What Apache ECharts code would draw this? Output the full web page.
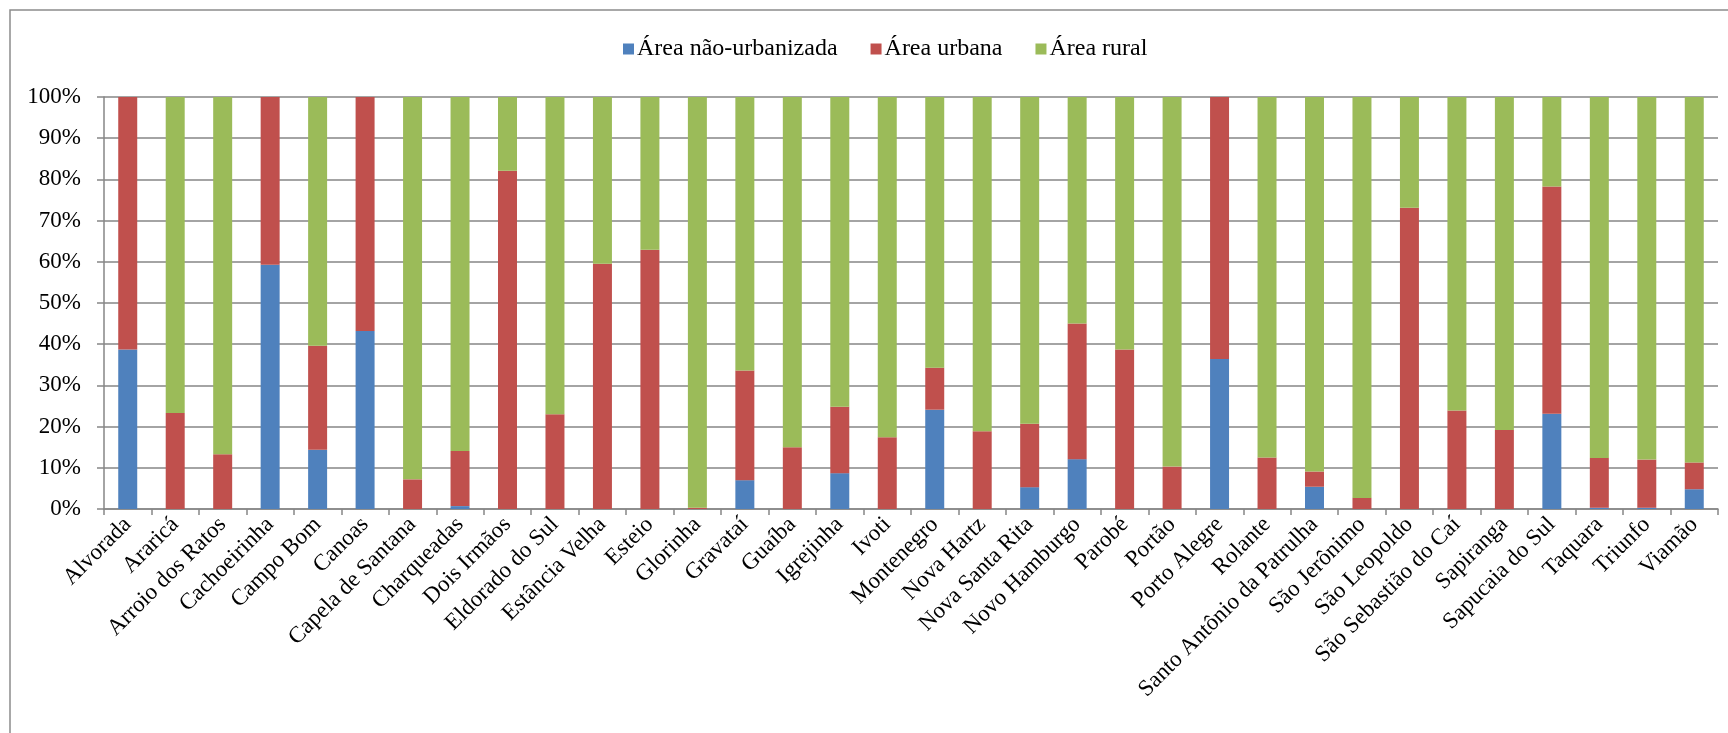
<!DOCTYPE html>
<html>
<head>
<meta charset="utf-8">
<script src="https://cdn.jsdelivr.net/npm/echarts@6/dist/echarts.min.js"></script>
<style>
html,body{margin:0;padding:0;background:#fff;}
#chart{width:1728px;height:733px;}
</style>
</head>
<body>
<div id="chart"></div>
<script>
const categories = ["Alvorada","Araricá","Arroio dos Ratos","Cachoeirinha","Campo Bom","Canoas","Capela de Santana","Charqueadas","Dois Irmãos","Eldorado do Sul","Estância Velha","Esteio","Glorinha","Gravataí","Guaíba","Igrejinha","Ivoti","Montenegro","Nova Hartz","Nova Santa Rita","Novo Hamburgo","Parobé","Portão","Porto Alegre","Rolante","Santo Antônio da Patrulha","São Jerônimo","São Leopoldo","São Sebastião do Caí","Sapiranga","Sapucaia do Sul","Taquara","Triunfo","Viamão"];
const seriesNames = ["Área não-urbanizada","Área urbana","Área rural"];
const naoUrbanizada = [38.7,0,0,59.3,14.4,43.2,0,0.7,0,0,0,0,0,7.0,0,8.7,0,24.1,0,5.3,12.1,0,0,36.4,0,5.4,0,0,0,0,23.1,0.3,0.3,4.8];
const urbana = [61.3,23.3,13.3,40.7,25.2,56.8,7.2,13.4,82.1,23.0,59.5,62.9,0.3,26.6,15.0,16.1,17.4,10.2,18.9,15.4,32.9,38.7,10.3,63.6,12.5,3.7,2.7,73.1,23.9,19.2,55.2,12.1,11.7,6.5];
const rural = [0,76.7,86.7,0,60.4,0,92.8,85.9,17.9,77.0,40.5,37.1,99.7,66.4,85.0,75.2,82.6,65.7,81.1,79.3,55.0,61.3,89.7,0,87.5,90.9,97.3,26.9,76.1,80.8,21.7,87.6,88.0,88.7];

const FONT = "'Liberation Serif','Times New Roman',serif";
const colors = ['#4F81BD','#C0504D','#9BBB59'];
const chart = echarts.init(document.getElementById('chart'), null, {renderer:'canvas'});
const dataSets = [naoUrbanizada, urbana, rural];
chart.setOption({
  animation:false,
  color: colors,
  graphic:[{type:'rect', shape:{x:10,y:10,width:1800,height:800}, style:{fill:'none', stroke:'#8c8c8c', lineWidth:1.5}, silent:true}],
  legend:{
    left:618, top:32, itemWidth:11, itemHeight:11, itemGap:33,
    icon:'rect',
    textStyle:{fontFamily:FONT, fontSize:24, color:'#000', padding:[0,0,0,-2]},
    data: seriesNames
  },
  grid:{left:104, right:10, top:97, bottom:224, containLabel:false},
  xAxis:{
    type:'category', data:categories,
    axisLine:{show:true, lineStyle:{color:'#868686', width:1.5}},
    axisTick:{show:true, alignWithLabel:false, length:6, lineStyle:{color:'#868686', width:1.5}},
    axisLabel:{rotate:45, interval:0, margin:12, fontFamily:FONT, fontSize:23, color:'#000'}
  },
  yAxis:{
    type:'value', min:0, max:100, interval:10,
    axisLine:{show:true, lineStyle:{color:'#868686', width:1.5}},
    axisTick:{show:true, inside:false, length:7, lineStyle:{color:'#868686', width:1.5}},
    splitLine:{show:true, lineStyle:{color:'#868686', width:1.5}},
    axisLabel:{formatter:'{value}%', margin:23, fontFamily:FONT, fontSize:23, color:'#000'}
  },
  series: seriesNames.map((n,i)=>({
    name:n, type:'bar', stack:'total', data:dataSets[i],
    barCategoryGap:'60%',
    itemStyle:{color:colors[i]}
  }))
});
</script>
</body>
</html>
